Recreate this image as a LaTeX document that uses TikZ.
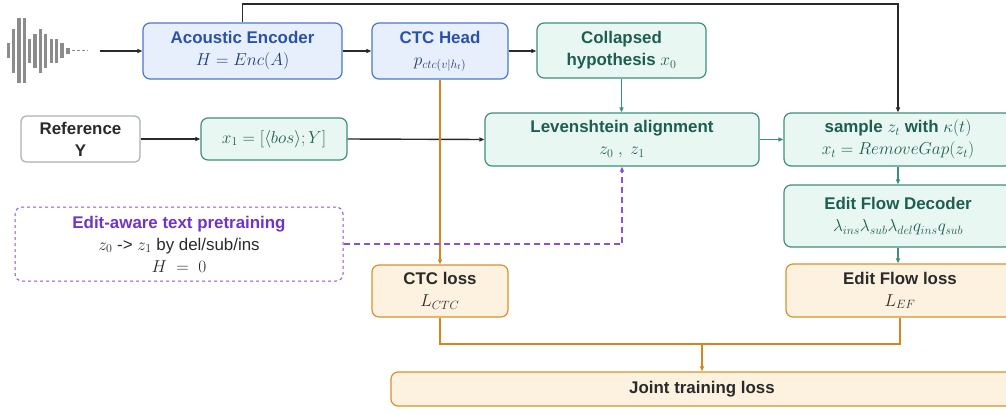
\documentclass[tikz,border=0pt]{standalone}
\usepackage{fontspec}
\setmainfont{Liberation Sans}
\usetikzlibrary{arrows.meta}
\definecolor{encblue}{HTML}{E8EFFC}
\definecolor{encline}{HTML}{4A78C8}
\definecolor{enctext}{HTML}{2A52A8}
\definecolor{encmath}{HTML}{1F3B70}
\definecolor{algfill}{HTML}{E9F7F3}
\definecolor{algline}{HTML}{3E8E7E}
\definecolor{algtext}{HTML}{1E5E50}
\definecolor{lossfill}{HTML}{FDF2E0}
\definecolor{lossline}{HTML}{D9902F}
\definecolor{lossarrow}{HTML}{D4861F}
\definecolor{preline}{HTML}{8A4FE0}
\definecolor{pretext}{HTML}{7035C8}
\definecolor{refline}{HTML}{A8B0B8}
\definecolor{wavegray}{HTML}{8C8C8C}
\definecolor{darkline}{HTML}{2A2A2A}
\begin{document}
\begin{tikzpicture}[x=1pt,y=-1pt,
  every node/.style={align=center,font=\fontsize{16.9}{22}\selectfont,inner sep=0pt},
  encbox/.style={draw=encline,fill=encblue,line width=1.2pt,rounded corners=7pt,text=enctext},
  algbox/.style={draw=algline,fill=algfill,line width=1.2pt,rounded corners=7pt,text=algtext},
  lossbox/.style={draw=lossline,fill=lossfill,line width=1.2pt,rounded corners=7pt,text=darkline},
  tip/.style={-{Triangle[length=5pt,width=4pt]}},
  blackarrow/.style={tip,draw=darkline,line width=1.4pt},
  tealarrow/.style={tip,draw=algline,line width=1.4pt},
  orangeline/.style={draw=lossarrow,line width=1.6pt}]
  \useasboundingbox (0,0) rectangle (1006,413);
  % waveform
  \foreach \i/\h in {0/7.5,1/22,2/32.5,3/32.5,4/12,5/17,6/22,7/17,8/12,9/12,10/7.5}
    \fill[wavegray] ({6.7+5.35*\i},{50.5-\h}) rectangle ++(3.3,{2*\h});
  \fill[wavegray] (66,47.5) rectangle (70,53.5);
  \draw[wavegray,line width=1pt,dash pattern=on 3pt off 2pt] (72,50.5) -- (88,50.5);
  \coordinate (wavend) at (100,51);
  % boxes
  \node[encbox,minimum width=199pt,minimum height=56pt] (enc) at (242.5,51)
    {\bfseries Acoustic Encoder\\ \color{encmath}$H = Enc(A)$};
  \node[encbox,minimum width=136pt,minimum height=56pt] (ctc) at (440,51)
    {\bfseries CTC Head\\ \color{encmath}$p_{ctc(v|h_t)}$};
  \node[algbox,minimum width=169pt,minimum height=55pt] (coll) at (621.5,50.5)
    {\bfseries Collapsed\\ \bfseries hypothesis $x_0$};
  \node[algbox,minimum width=274pt,minimum height=53pt] (lev) at (622,139.5)
    {\bfseries Levenshtein alignment\\ $z_0\ ,\ z_1$};
  \node[algbox,minimum width=228pt,minimum height=53pt] (samp) at (898,139.5)
    {\bfseries sample $z_t$ with $\kappa(t)$\\ $x_t = RemoveGap(z_t)$};
  \node[algbox,minimum width=228pt,minimum height=62pt] (efd) at (898,216)
    {\bfseries Edit Flow Decoder\\ $\lambda_{ins}\lambda_{sub}\lambda_{del}q_{ins}q_{sub}$};
  \node[lossbox,minimum width=228pt,minimum height=53pt] (efl) at (900,290.5)
    {\bfseries Edit Flow loss\\ $L_{EF}$};
  \node[draw=refline,fill=white,line width=1.2pt,rounded corners=5pt,
    minimum width=119pt,minimum height=46pt,text=darkline] (ref) at (80.5,139)
    {\bfseries Reference\\ \bfseries Y};
  \node[algbox,minimum width=146pt,minimum height=42pt] (xone) at (274,139)
    {$x_1 = [\langle bos\rangle ; Y]$};
  \node[draw=preline,fill=white,line width=1pt,dashed,rounded corners=7pt,
    minimum width=328pt,minimum height=74pt,text=darkline] (pre) at (179,244)
    {\color{pretext}\bfseries Edit-aware text pretraining\\ $z_0$ -> $z_1$ by del/sub/ins\\ $H\ =\ 0$};
  \node[lossbox,minimum width=136pt,minimum height=52pt] (ctcl) at (440,291)
    {\bfseries CTC loss\\ $L_{CTC}$};
  \node[lossbox,minimum width=622pt,minimum height=34pt] (joint) at (702,389)
    {\bfseries Joint training loss};
  \coordinate (topline) at (898,4);
  \coordinate (lossjoin) at (702,344);
  % connectors
  \draw[blackarrow] (wavend) -- (enc.west);
  \draw[blackarrow] (enc.east) -- (ctc.west);
  \draw[blackarrow] (ctc.east) -- (ctc.east -| coll.west);
  \draw[blackarrow] (enc.north) |- (topline) -- (samp.north);
  \draw[blackarrow] (ref.east) -- (xone.west);
  \draw[blackarrow] (xone.east) -- (lev.west);
  \draw[tealarrow] (coll.south) -- (coll.south |- lev.north);
  \draw[tealarrow] (lev.east) -- (samp.west);
  \draw[tealarrow] (samp.south) -- (efd.north);
  \draw[tealarrow] (efd.south) -- (efd.south |- efl.north);
  \draw[orangeline,tip] (ctc.south) -- (ctcl.north);
  \draw[orangeline] (ctcl.south) |- (lossjoin) -| (efl.south);
  \draw[orangeline,tip] (lossjoin) -- (joint.north);
  \draw[tip,draw=preline,line width=1.8pt,dash pattern=on 6pt off 4pt] (pre.east) -| (lev.south);
\end{tikzpicture}
\end{document}
